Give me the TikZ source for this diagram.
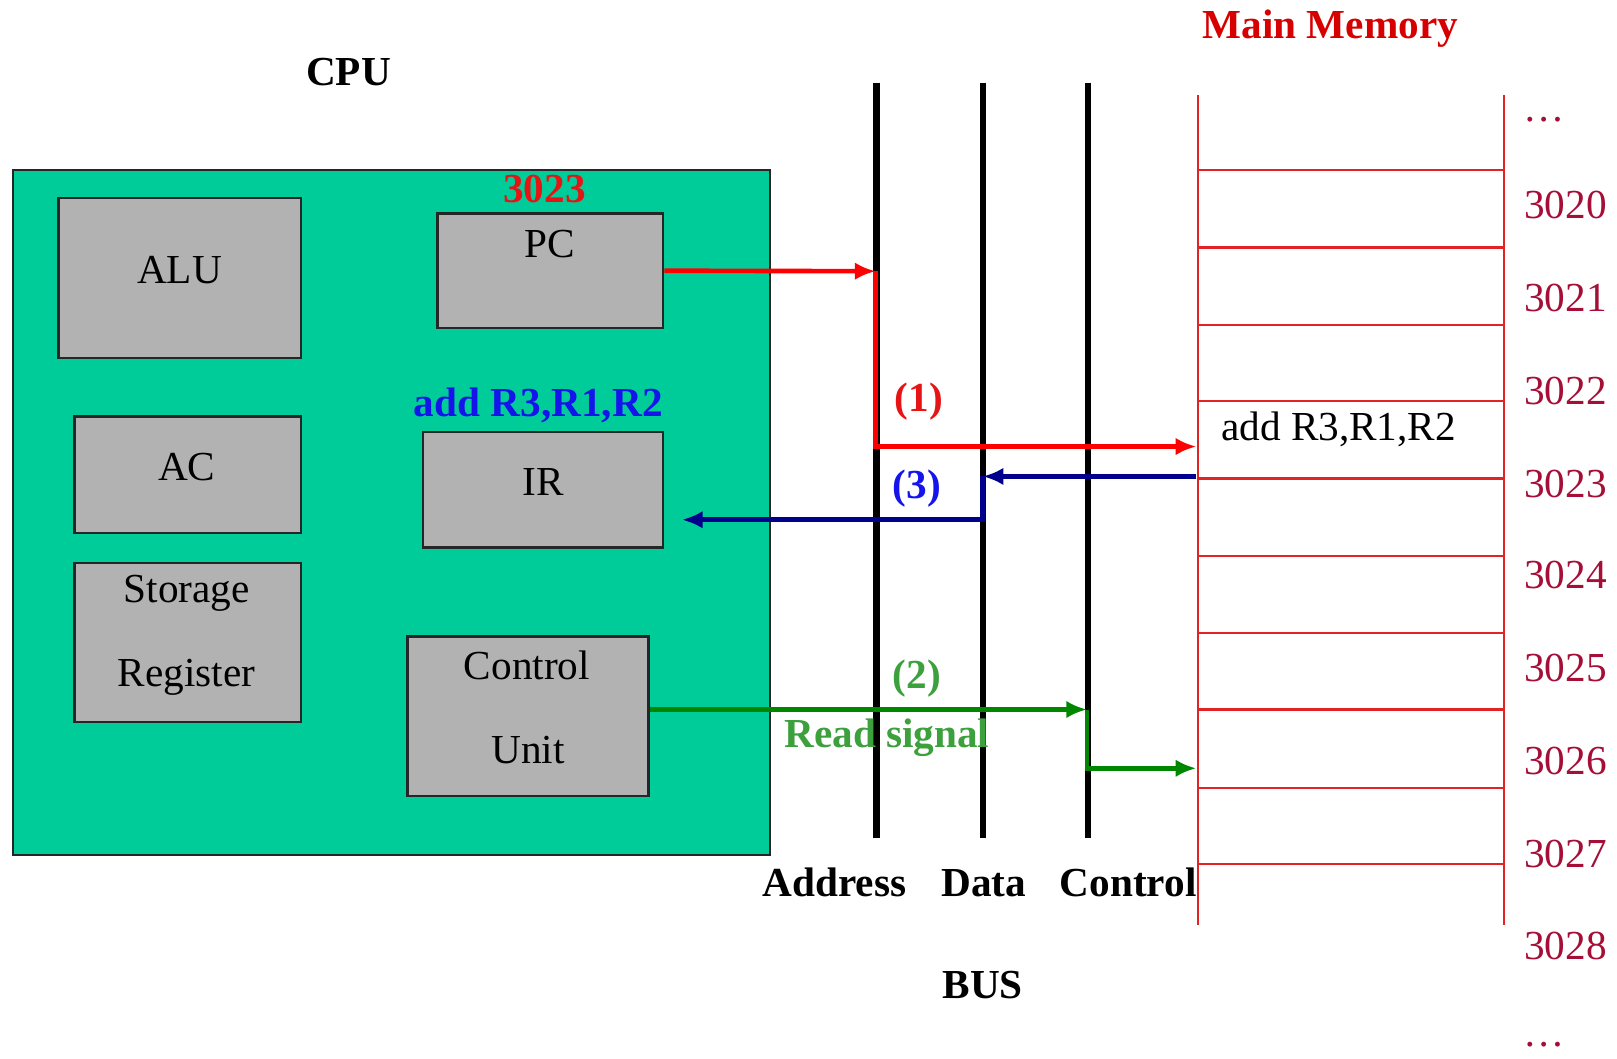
\documentclass[tikz,border=0pt]{standalone}
\usepackage{fontspec}
\setmainfont{Liberation Serif}
\usetikzlibrary{arrows.meta,calc}
\definecolor{cpugreen}{RGB}{0,204,153}
\definecolor{boxgray}{RGB}{178,178,178}
\definecolor{memred}{RGB}{225,35,35}
\definecolor{addrcol}{RGB}{165,15,55}
\definecolor{navyarrow}{RGB}{0,0,140}
\definecolor{siggreen}{RGB}{0,135,0}
\definecolor{lblgreen}{RGB}{60,160,60}
\definecolor{lblred}{RGB}{230,20,20}
\definecolor{lblblue}{RGB}{20,20,235}
\definecolor{titlered}{RGB}{215,0,0}
\begin{document}
\begin{tikzpicture}[x=1pt,y=-1pt,
  txt/.style={font=\fontsize{40}{48}\selectfont, inner sep=0pt},
  btxt/.style={font=\fontsize{40}{48}\selectfont\bfseries, inner sep=0pt},
  reg/.style={draw=black!85, line width=2.5, fill=boxgray, inner sep=0pt},
  bus/.style={line width=6, black},
  memline/.style={draw=memred, line width=2},
  addr/.style={txt, text=addrcol},
  tipstyle/.style={-{Latex[length=20,width=17]}},
  redarrow/.style={tipstyle, draw=red, line width=4.5},
  navyline/.style={tipstyle, draw=navyarrow, line width=4.5},
  greenline/.style={tipstyle, draw=siggreen, line width=4.5},
]
\useasboundingbox (0,0) rectangle (1568,1026);

% CPU
\node[draw=black!85, line width=2, fill=cpugreen, minimum width=734, minimum height=664, inner sep=0] (cpu) at (380,497) {};
\node[btxt] (cputitle) at (338,70) {CPU};

\node[reg, minimum width=235, minimum height=155] (alu) at (174.5,269.5) {};
\node[txt] (alut) at (174,262) {ALU};
\node[reg, minimum width=219, minimum height=111] (pc) at (533.5,262.5) {};
\node[txt] (pct) at (533,237) {PC};
\node[btxt, text=lblred] (pcval) at (528,183) {3023};
\node[reg, minimum width=220, minimum height=113] (ac) at (182,460.5) {};
\node[txt] (act) at (181,453) {AC};
\node[reg, minimum width=233, minimum height=112] (ir) at (526.5,475) {};
\node[txt] (irt) at (527,467) {IR};
\node[btxt, text=lblblue] (irval) at (522,393) {add R3,R1,R2};
\node[reg, minimum width=220, minimum height=154] (sr) at (182,623) {};
\node[txt] (srt1) at (181,575) {Storage};
\node[txt] (srt2) at (181,657) {Register};
\node[reg, minimum width=234, minimum height=155] (cu) at (512,694.5) {};
\node[txt] (cut1) at (511,645) {Control};
\node[txt] (cut2) at (512,727) {Unit};

% Bus
\coordinate (abT) at (850,80);  \coordinate (abB) at (850,813);
\coordinate (dbT) at (953,80);  \coordinate (dbB) at (953,813);
\coordinate (cbT) at (1055,80); \coordinate (cbB) at (1055,813);
\draw[bus] (abT) -- (abB);
\draw[bus] (dbT) -- (dbB);
\draw[bus] (cbT) -- (cbB);
\node[btxt] (abl) at (809,856) {Address};
\node[btxt] (dbl) at (954,856) {Data};
\node[btxt] (cbl) at (1094,856) {Control};
\node[btxt] (busl) at (953,955) {BUS};

% Memory
\node[btxt, text=titlered] (memtitle) at (1290,28) {Main Memory};
\coordinate (mlT) at (1162,92); \coordinate (mlB) at (1162,897);
\coordinate (mrT) at (1458,92); \coordinate (mrB) at (1458,897);
\draw[memline] (mlT) -- (mlB);
\draw[memline] (mrT) -- (mrB);
\foreach \y in {165,240,315,389,464,539,614,688,764,838}
  \draw[memline] (1162,\y) -- (1458,\y);
\node[txt] (memins) at (1298,416) {add R3,R1,R2};

\node[addr] (ad0) at (1497,116) {…};
\foreach \n/\y in {3020/199,3021/289,3022/379,3023/469,3024/558,3025/648,3026/738,3027/828,3028/917}
  \node[addr] (ad\n) at (1518,\y) {\n};
\node[addr] (ad9) at (1497,1013) {…};

% Connection points
\coordinate (a1) at (849,263);
\coordinate (m1) at (1160,433);
\coordinate (m3) at (1160,462);
\coordinate (d3) at (953,462);
\coordinate (d3b) at (953,504);
\coordinate (c2) at (1054,688);
\coordinate (m2) at (1160,745);

% (1) address
\draw[redarrow] (pc.east) -- (a1);
\draw[redarrow] (a1) |- (m1);
\node[btxt, text=lblred] (l1) at (891,389) {(1)};

% (3) data
\draw[navyline] (m3) -- (d3);
\draw[navyline] (d3) -- (d3b) -- ($(ir.east)+(17,29)$);
\node[btxt, text=lblblue] (l3) at (889,474) {(3)};

% (2) control
\draw[greenline] ($(cu.east)+(0,-6.5)$) -- (c2);
\draw[greenline] (c2) |- (m2);
\node[btxt, text=lblgreen] (l2) at (889,658) {(2)};
\node[btxt, text=lblgreen] (rs) at (860,715) {Read signal};
\end{tikzpicture}
\end{document}
